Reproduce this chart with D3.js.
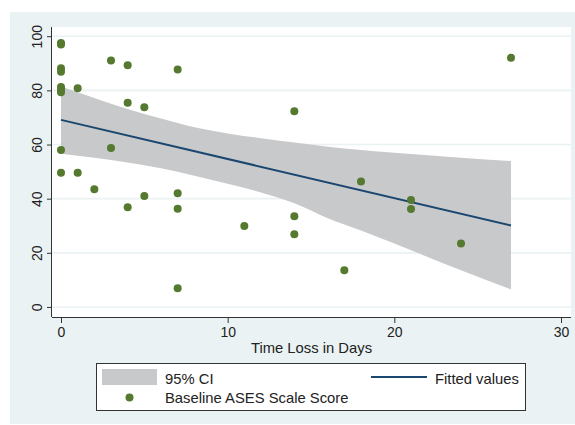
<!DOCTYPE html>
<html>
<head>
<meta charset="utf-8">
<script src="https://cdn.jsdelivr.net/npm/d3@7"></script>
<style>
  body { margin: 0; background: #fff; }
  svg { display: block; font-family: "Liberation Sans", Arial, sans-serif; }
</style>
</head>
<body>
<div id="chart"></div>
<script>
// Streudiagramm: Zeitverlust vs. ASES-Score
const timeLoss = [0, 0, 0, 0, 0, 0, 0, 0, 0, 1, 1, 2, 3, 3, 4, 4, 4, 5, 5, 7, 7, 7, 7, 11, 14, 14, 14, 17, 18, 21, 21, 24, 27];
const asesScore = [97.5, 96.9, 88.2, 86.9, 81.2, 80.2, 79.3, 58.0, 49.6, 80.8, 49.6, 43.5, 91.0, 58.7, 89.3, 75.4, 36.8, 73.8, 41.0, 87.7, 42.0, 36.3, 6.9, 29.9, 72.3, 33.5, 26.9, 13.6, 46.3, 39.5, 36.2, 23.4, 92.0];

// Regressionsgerade (Endpunkte)
const fitX = [0, 27];
const fitY = [69.1, 30.1];

// 95%-Konfidenzband
const ciX = [0, 2, 4, 6, 8, 10, 12, 14, 16, 18, 20, 22, 24, 27];
const ciLow = [56.6, 55.1, 53.4, 51.2, 48.5, 45.5, 42.3, 38.3, 32.8, 28.2, 23.4, 18.5, 13.6, 6.5];
const ciHigh = [81.4, 77.2, 73.1, 69.6, 66.4, 64.1, 62.3, 60.7, 59.2, 58.0, 57.0, 56.0, 55.1, 53.9];

const xTicks = [0, 10, 20, 30];
const yTicks = [0, 20, 40, 60, 80, 100];

const width = 575, height = 425;
const plot = { left: 52, right: 571, top: 27, bottom: 317 };

const svg = d3.select("#chart")
    .append("svg")
    .attr("width", width)
    .attr("height", height);

// Hintergrund (Graph-Region)
svg.append("rect")
    .attr("x", 10).attr("y", 12)
    .attr("width", width - 10).attr("height", height - 13)
    .attr("fill", "#eaf2f3");

svg.append("rect")
    .attr("x", plot.left).attr("y", plot.top)
    .attr("width", plot.right - plot.left).attr("height", plot.bottom - plot.top)
    .attr("fill", "#fff");

const x = d3.scaleLinear()
    .domain([-0.54, 30.6])
    .range([plot.left, plot.right]);

const y = d3.scaleLinear()
    .domain([-3.7, 103.4])
    .range([plot.bottom, plot.top]);

// Gitterlinien
svg.append("g")
    .selectAll("line")
    .data(yTicks)
    .enter()
    .append("line")
    .attr("x1", plot.left).attr("x2", plot.right)
    .attr("y1", d => y(d)).attr("y2", d => y(d))
    .attr("stroke", "#eaf2f3")
    .attr("stroke-width", 1.6);

// Konfidenzband
const band = ciX.map((v, i) => ({ x: v, lo: ciLow[i], hi: ciHigh[i] }));
svg.append("path")
    .datum(band)
    .attr("d", d3.area()
        .x(d => x(d.x))
        .y0(d => y(d.lo))
        .y1(d => y(d.hi))
        .curve(d3.curveMonotoneX))
    .attr("fill", "#c8c9cb");

// Regressionsgerade
svg.append("path")
    .datum(fitX.map((v, i) => ({ x: v, y: fitY[i] })))
    .attr("d", d3.line().x(d => x(d.x)).y(d => y(d.y)))
    .attr("fill", "none")
    .attr("stroke", "#1a476f")
    .attr("stroke-width", 2);

// Punkte
svg.append("g")
    .selectAll("circle")
    .data(timeLoss.map((v, i) => ({ x: v, y: asesScore[i] })))
    .enter()
    .append("circle")
    .attr("cx", d => x(d.x))
    .attr("cy", d => y(d.y))
    .attr("r", 4)
    .attr("fill", "#55792f");

// Achsen
const xAxis = g => g
    .attr("transform", `translate(0,${plot.bottom})`)
    .call(d3.axisBottom(x).tickValues(xTicks).tickSize(6).tickPadding(4).tickSizeOuter(0))
    .call(g => g.select(".domain").attr("d", `M${plot.left},0.5H${plot.right}`))
    .style("font-size", "14px")
    .style("font-family", "Liberation Sans, Arial, sans-serif");

const yAxis = g => g
    .attr("transform", `translate(${plot.left},0)`)
    .call(d3.axisLeft(y).tickValues(yTicks).tickSize(5).tickSizeOuter(0))
    .call(g => g.select(".domain").attr("d", `M-0.5,${plot.top}V${plot.bottom}`))
    .style("font-size", "14px")
    .style("font-family", "Liberation Sans, Arial, sans-serif");

svg.append("g").call(xAxis)
    .selectAll("path, line").attr("stroke", "#333");

const gy = svg.append("g").call(yAxis);
gy.selectAll("path, line").attr("stroke", "#333");
gy.selectAll("text")
    .attr("x", null).attr("dy", null)
    .attr("text-anchor", "middle")
    .attr("transform", "translate(-10,0) rotate(-90)");

svg.selectAll(".tick text").attr("fill", "#222");

svg.append("text")
    .attr("x", (plot.left + plot.right) / 2)
    .attr("y", 353)
    .attr("text-anchor", "middle")
    .style("font-size", "14.8px")
    .attr("fill", "#222")
    .text("Time Loss in Days");

// Legende
const legend = svg.append("g");
legend.append("rect")
    .attr("x", 96.5).attr("y", 363.5)
    .attr("width", 429).attr("height", 47)
    .attr("fill", "#fff")
    .attr("stroke", "#333");

legend.append("rect")
    .attr("x", 102).attr("y", 369)
    .attr("width", 55).attr("height", 16)
    .attr("fill", "#c8c9cb");

legend.append("line")
    .attr("x1", 371).attr("x2", 427)
    .attr("y1", 377).attr("y2", 377)
    .attr("stroke", "#1a476f")
    .attr("stroke-width", 2);

legend.append("circle")
    .attr("cx", 129.5).attr("cy", 397.5)
    .attr("r", 4)
    .attr("fill", "#55792f");

const legendTexts = [
    { x: 165, y: 384, t: "95% CI" },
    { x: 435, y: 383.5, t: "Fitted values" },
    { x: 165, y: 403.3, t: "Baseline ASES Scale Score" }
];
legend.selectAll("text.lbl")
    .data(legendTexts)
    .enter()
    .append("text")
    .attr("x", d => d.x)
    .attr("y", d => d.y)
    .style("font-size", "14.8px")
    .attr("fill", "#222")
    .text(d => d.t);
</script>
</body>
</html>
